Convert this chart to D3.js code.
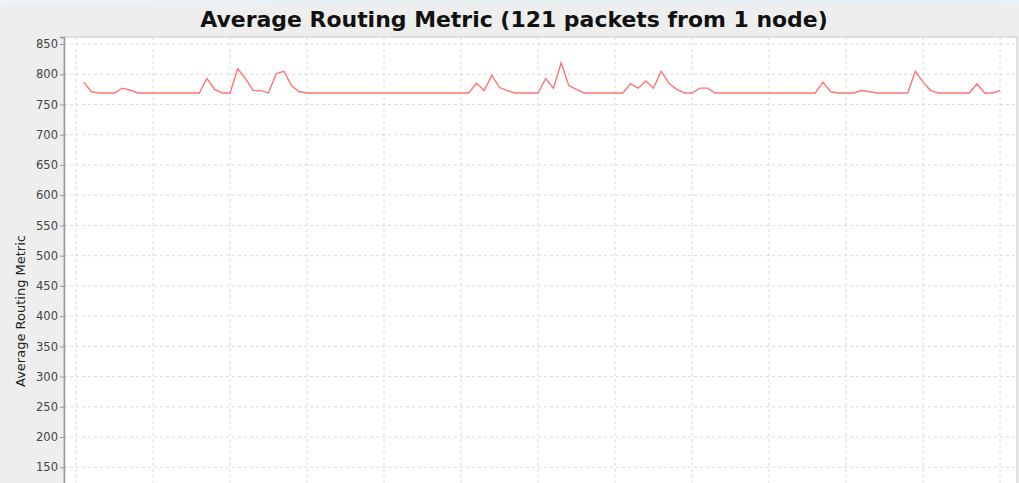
<!DOCTYPE html>
<html>
<head>
<meta charset="utf-8">
<script src="https://cdn.jsdelivr.net/npm/d3@7"></script>
<style>
  html, body { margin: 0; padding: 0; background: #eeeeee; overflow: hidden; }
  svg { display: block; font-family: "DejaVu Sans", sans-serif; }
</style>
</head>
<body>
<div id="chart"></div>
<script>
// chart text
const title = "Average Routing Metric (121 packets from 1 node)";
const yLabel = "Average Routing Metric";

// packet index (1..120) and the average routing metric
const packets = d3.range(1, 121);
const metric = [
  787, 771, 769, 769, 769, 777, 774, 769, 769, 769,
  769, 769, 769, 769, 769, 769, 793, 775, 769, 769,
  809, 793, 773, 773, 769, 801, 805, 781, 771, 769,
  769, 769, 769, 769, 769, 769, 769, 769, 769, 769,
  769, 769, 769, 769, 769, 769, 769, 769, 769, 769,
  769, 785, 773, 798, 778, 773, 769, 769, 769, 769,
  793, 777, 819, 781, 775, 769, 769, 769, 769, 769,
  769, 784, 777, 789, 777, 805, 785, 775, 769, 769,
  777, 777, 769, 769, 769, 769, 769, 769, 769, 769,
  769, 769, 769, 769, 769, 769, 787, 771, 769, 769,
  769, 773, 771, 769, 769, 769, 769, 769, 805, 787,
  773, 769, 769, 769, 769, 769, 784, 769, 769, 773
];
const xTicks = d3.range(0, 121, 10);
const yTicks = d3.range(150, 851, 50);

const data = packets.map((p, i) => ({ x: p, y: metric[i] }));

const width = 1019, height = 483;
const plot = { left: 64, right: 1017, top: 37, bottom: 558 };

const x = d3.scaleLinear().domain([-1.56, 122.2]).range([plot.left, plot.right]);
const y = d3.scaleLinear().domain([0, 861.6]).range([plot.bottom, plot.top]);

const svg = d3.select("#chart").append("svg")
    .attr("width", width)
    .attr("height", height);

// faint strip at the very top (window backdrop)
const grad = svg.append("defs").append("linearGradient").attr("id", "strip");
grad.append("stop").attr("offset", "0%").attr("stop-color", "#eef3f6");
grad.append("stop").attr("offset", "50%").attr("stop-color", "#e6eef0");
grad.append("stop").attr("offset", "100%").attr("stop-color", "#e9f0f6");
svg.append("rect").attr("x", 0).attr("y", 0).attr("width", width).attr("height", 5)
    .attr("fill", "url(#strip)");

// title
const t = svg.append("text")
    .attr("x", 514)
    .attr("y", 27)
    .attr("text-anchor", "middle")
    .attr("font-weight", "bold")
    .attr("font-size", 20)
    .attr("fill", "#111")
    .text(title);
const tw = t.node().getComputedTextLength();
t.attr("font-size", 20 * 628 / tw);

// plot background
svg.append("rect")
    .attr("x", plot.left).attr("y", plot.top)
    .attr("width", plot.right - plot.left).attr("height", plot.bottom - plot.top)
    .attr("fill", "white")
    .attr("stroke", "#c8c8c8");

// grid
svg.append("g")
    .selectAll("line")
    .data(xTicks)
    .join("line")
    .attr("x1", d => x(d)).attr("x2", d => x(d))
    .attr("y1", plot.top).attr("y2", plot.bottom)
    .attr("stroke", "#dadada")
    .attr("stroke-dasharray", "3,3");

svg.append("g")
    .selectAll("line")
    .data(yTicks)
    .join("line")
    .attr("x1", plot.left).attr("x2", plot.right)
    .attr("y1", d => y(d)).attr("y2", d => y(d))
    .attr("stroke", "#dadada")
    .attr("stroke-dasharray", "3,3");

// y axis
const yAxis = svg.append("g")
    .attr("transform", `translate(${plot.left},0)`)
    .call(d3.axisLeft(y).tickValues(yTicks).tickSize(4).tickPadding(2));
yAxis.select(".domain").attr("stroke", "#999").attr("stroke-width", 1.5);
yAxis.selectAll(".tick line").attr("stroke", "#999");
yAxis.selectAll(".tick text")
    .attr("font-family", "DejaVu Sans, sans-serif")
    .attr("font-size", 11.5)
    .attr("fill", "#444");

const yl = svg.append("text")
    .attr("transform", "translate(25,311) rotate(-90)")
    .attr("text-anchor", "middle")
    .attr("font-size", 12)
    .attr("fill", "#222")
    .text(yLabel);
yl.attr("font-size", 12 * 152 / yl.node().getComputedTextLength());

// series
const line = d3.line().x(d => x(d.x)).y(d => y(d.y));
svg.append("path")
    .datum(data)
    .attr("fill", "none")
    .attr("stroke", "#ff7676")
    .attr("stroke-width", 1.4)
    .attr("d", line);
</script>
</body>
</html>
